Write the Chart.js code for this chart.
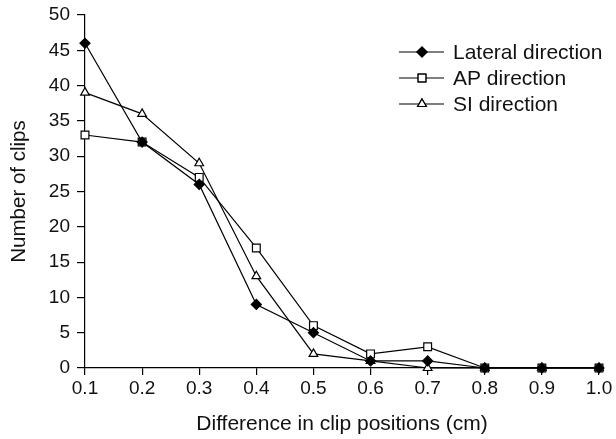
<!DOCTYPE html>
<html>
<head>
<meta charset="utf-8">
<script src="https://cdn.jsdelivr.net/npm/chart.js@4"></script>
<style>
  html, body { margin: 0; padding: 0; background: #fff; }
  #wrap { width: 616px; height: 439px; position: relative; }
</style>
</head>
<body>
<div id="wrap"><canvas id="grafico"></canvas></div>
<script>
// dados
const posicoes = ['0.1', '0.2', '0.3', '0.4', '0.5', '0.6', '0.7', '0.8', '0.9', '1.0'];
const lateral = [46, 32, 26, 9, 5, 1, 1, 0, 0, 0];
const ap = [33, 32, 27, 17, 6, 2, 3, 0, 0, 0];
const si = [39, 36, 29, 13, 2, 1, 0, 0, 0, 0];
const nomesSeries = ['Lateral direction', 'AP direction', 'SI direction'];

const fonte = 'Liberation Sans, Arial, sans-serif';

function serie(label, data, estilo, fundo) {
  return {
    label, data,
    borderColor: '#000', borderWidth: 1.2,
    pointStyle: estilo, pointRadius: estilo === 'rect' ? 5.5 : 5,
    pointBackgroundColor: fundo, pointBorderColor: '#000', pointBorderWidth: 1.2,
    tension: 0, clip: false, fill: false
  };
}

// legenda desenhada dentro da área do gráfico
const legendaInterna = {
  id: 'legendaInterna',
  afterDraw(chart) {
    const ctx = chart.ctx;
    ctx.save();
    chart.data.datasets.forEach((ds, i) => {
      const y = 52 + i * 26;
      ctx.strokeStyle = '#000';
      ctx.lineWidth = 1.2;
      ctx.beginPath();
      ctx.moveTo(399, y);
      ctx.lineTo(444, y);
      ctx.stroke();
      ctx.fillStyle = ds.pointBackgroundColor;
      Chart.helpers.drawPoint(ctx, { pointStyle: ds.pointStyle, radius: ds.pointRadius, borderWidth: 1.2 }, 422, y);
      ctx.fill();
      ctx.stroke();
      ctx.fillStyle = '#111';
      ctx.font = '21px ' + fonte;
      ctx.textBaseline = 'middle';
      ctx.fillText(ds.label, 453, y + 1);
    });
    ctx.restore();
  }
};

new Chart(document.getElementById('grafico'), {
  type: 'line',
  data: {
    labels: posicoes,
    datasets: [
      serie(nomesSeries[0], lateral, 'rectRot', '#000'),
      serie(nomesSeries[1], ap, 'rect', '#fff'),
      serie(nomesSeries[2], si, 'triangle', '#fff')
    ]
  },
  options: {
    responsive: true,
    maintainAspectRatio: false,
    animation: false,
    layout: { padding: { left: 0, right: 17, top: 15, bottom: 0 } },
    plugins: {
      legend: { display: false },
      tooltip: { enabled: false }
    },
    scales: {
      x: {
        offset: false,
        afterFit: s => { s.height = 71; s.paddingLeft = 0; s.paddingRight = 0; },
        border: { display: true, color: '#000', width: 1.2 },
        grid: { drawOnChartArea: false, drawTicks: true, tickLength: 7, color: '#000', lineWidth: 1.2 },
        ticks: { color: '#111', font: { family: fonte, size: 19 }, padding: 2, maxRotation: 0, autoSkip: false },
        title: { display: true, text: 'Difference in clip positions (cm)', color: '#111', font: { family: fonte, size: 21 }, padding: { top: 4, bottom: 2 } }
      },
      y: {
        min: 0, max: 50,
        afterFit: s => { s.width = 85; s.paddingTop = 0; s.paddingBottom = 0; },
        border: { display: true, color: '#000', width: 1.2 },
        grid: { drawOnChartArea: false, drawTicks: true, tickLength: 8, color: '#000', lineWidth: 1.2 },
        ticks: { stepSize: 5, color: '#111', font: { family: fonte, size: 19 }, padding: 7 },
        title: { display: true, text: 'Number of clips', color: '#111', font: { family: fonte, size: 20.5 }, padding: { top: 7, bottom: 0 } }
      }
    }
  },
  plugins: [legendaInterna]
});
</script>
</body>
</html>
